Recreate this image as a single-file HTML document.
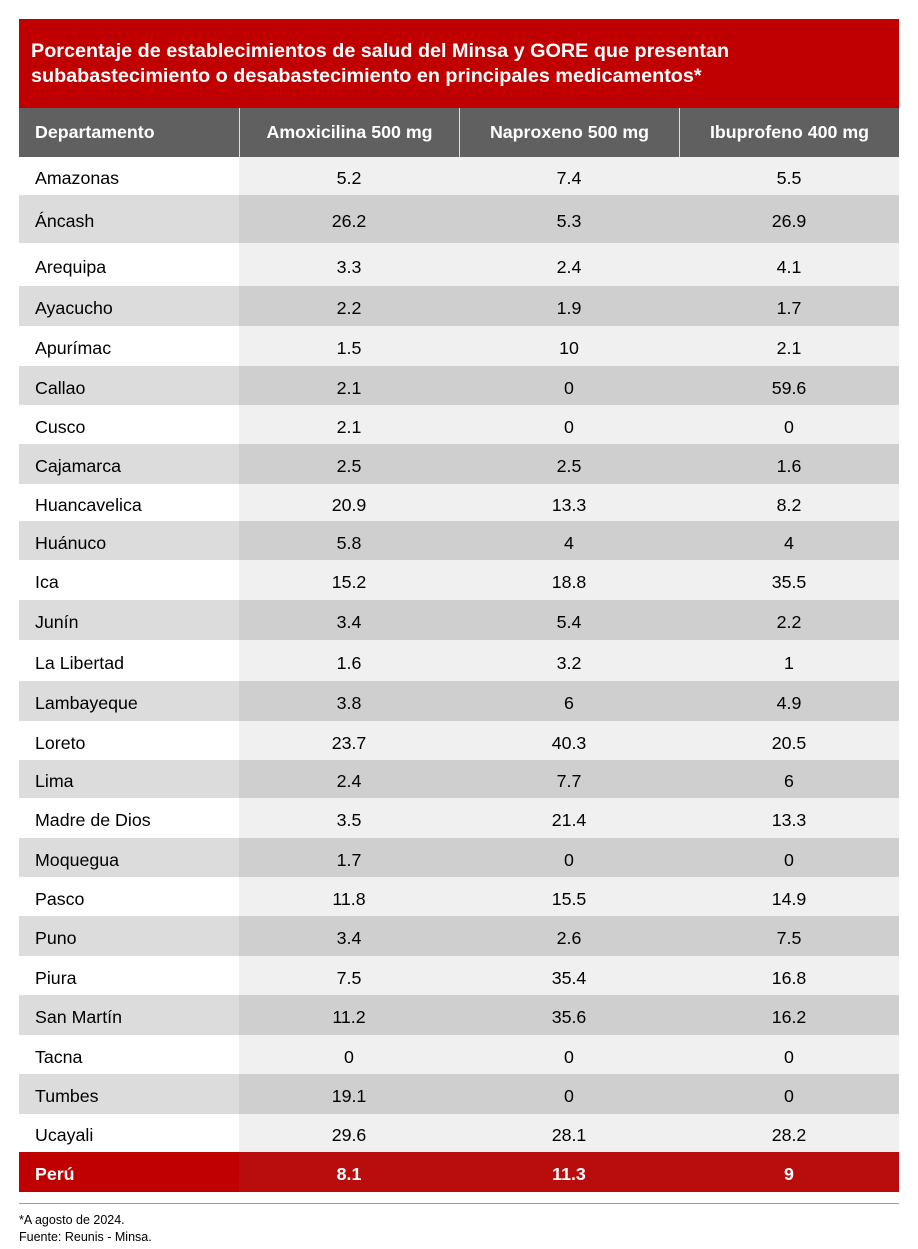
<!DOCTYPE html>
<html><head><meta charset="utf-8">
<style>
body{margin:0;width:918px;height:1249px;background:#fff;font-family:"Liberation Sans",Arial,sans-serif;position:relative;overflow:hidden}
#title{position:absolute;left:19px;top:19px;width:880px;height:89px;background:#c00000;color:#fff;font-weight:bold;font-size:19.8px;line-height:25px;box-sizing:border-box;padding:20px 0 0 12px}
#tbl{position:absolute;left:19px;top:108px;width:880px}
.row{display:flex}
.c{width:220px;display:flex;align-items:center;justify-content:center;font-size:17.8px;color:#000;box-sizing:border-box;padding-top:5px}
.c.f{justify-content:flex-start;padding-left:16px}
.hd .c{background:#606060;color:#fff;font-weight:bold;height:49px;border-left:1px solid #ddd;padding-top:0}
.hd .c.f{border-left:none}
.r0 .c{background:#f0f0f0}.r0 .c.f{background:#fff}
.r1 .c{background:#cfcfcf}.r1 .c.f{background:#dcdcdc}
.tot .c{background:#b90d0d;color:#fff;font-weight:bold}.tot .c.f{background:#c00000}
#rule{position:absolute;left:19px;top:1203px;width:880px;height:1px;background:#e77}
#notes{position:absolute;left:19px;top:1212px;font-size:12.5px;line-height:17px;color:#000}
</style></head><body>
<div id="title">Porcentaje de establecimientos de salud del Minsa y GORE que presentan<br>subabastecimiento o desabastecimiento en principales medicamentos*</div>
<div id="tbl">
<div class="row hd">
<div class="c f">Departamento</div>
<div class="c">Amoxicilina 500 mg</div>
<div class="c">Naproxeno 500 mg</div>
<div class="c">Ibuprofeno 400 mg</div>
</div>
</div>
<div id="rule"></div>
<div id="notes">*A agosto de 2024.<br>Fuente: Reunis - Minsa.</div>
<script>
const departments=["Amazonas","Áncash","Arequipa","Ayacucho","Apurímac","Callao","Cusco","Cajamarca","Huancavelica","Huánuco","Ica","Junín","La Libertad","Lambayeque","Loreto","Lima","Madre de Dios","Moquegua","Pasco","Puno","Piura","San Martín","Tacna","Tumbes","Ucayali","Perú"];
const amoxicilina=["5.2","26.2","3.3","2.2","1.5","2.1","2.1","2.5","20.9","5.8","15.2","3.4","1.6","3.8","23.7","2.4","3.5","1.7","11.8","3.4","7.5","11.2","0","19.1","29.6","8.1"];
const naproxeno=["7.4","5.3","2.4","1.9","10","0","0","2.5","13.3","4","18.8","5.4","3.2","6","40.3","7.7","21.4","0","15.5","2.6","35.4","35.6","0","0","28.1","11.3"];
const ibuprofeno=["5.5","26.9","4.1","1.7","2.1","59.6","0","1.6","8.2","4","35.5","2.2","1","4.9","20.5","6","13.3","0","14.9","7.5","16.8","16.2","0","0","28.2","9"];
const rowHeights=[38,48,43,40,40,39,39,40,37,39,40,40,41,40,39,38,40,39,39,40,39,40,39,40,38,40];
const tbl=document.getElementById('tbl');
departments.forEach((d,i)=>{
  const r=document.createElement('div');
  const last=i===departments.length-1;
  r.className='row '+(last?'tot':(i%2?'r1':'r0'));
  
  
  [d,amoxicilina[i],naproxeno[i],ibuprofeno[i]].forEach((v,j)=>{
    const c=document.createElement('div');
    c.className='c'+(j===0?' f':'');
    c.style.height=rowHeights[i]+'px';
    c.textContent=v;
    
    
    r.appendChild(c);
  });
  tbl.appendChild(r);
});
</script>
</body></html>
